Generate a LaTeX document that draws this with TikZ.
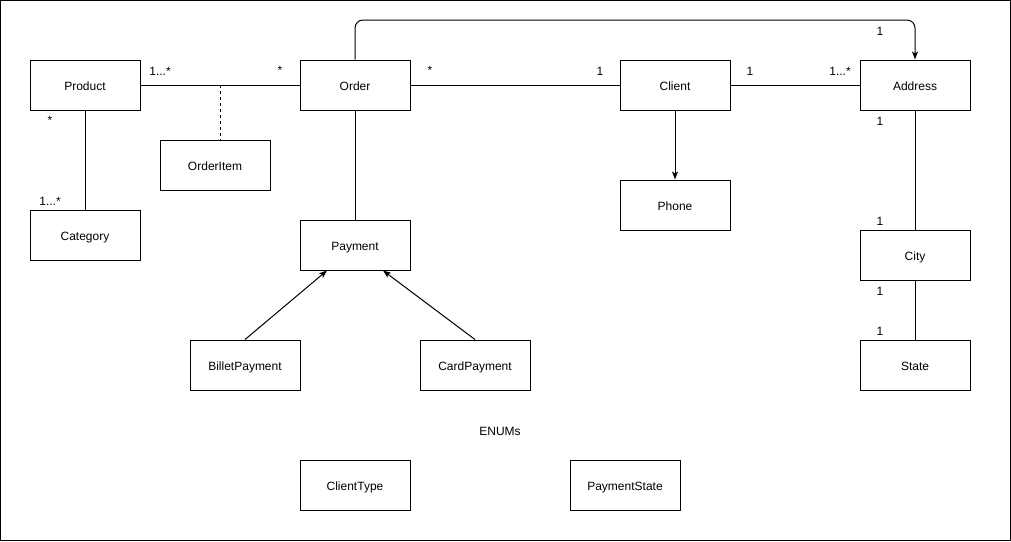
\documentclass[tikz,border=0pt]{standalone}
\usepackage{fontspec}
\setmainfont{Liberation Sans}
\usetikzlibrary{arrows.meta}
\begin{document}
\begin{tikzpicture}[x=1pt,y=-1pt,
  box/.style={draw=black,line width=1pt,minimum width=110pt,minimum height=50pt,inner sep=0pt,text height=10.5pt,text depth=0pt,font=\fontsize{12}{14}\selectfont},
  lbl/.style={font=\fontsize{12}{14}\selectfont,inner sep=0pt},
  conn/.style={draw=black,line width=1pt},
  arr/.style={conn,-{Stealth[length=8pt,width=6pt,inset=2pt]}}]
\draw[line width=1pt,fill=white] (0.5,0.5) rectangle (1010.5,540.5);
\node[box] (product) at (85,85) {Product};
\node[box] (order) at (355,85) {Order};
\node[box] (client) at (675,85) {Client};
\node[box] (address) at (915,85) {Address};
\node[box] (orderitem) at (215,165) {OrderItem};
\node[box] (category) at (85,235) {Category};
\node[box] (payment) at (355,245) {Payment};
\node[box] (phone) at (675,205) {Phone};
\node[box] (city) at (915,255) {City};
\node[box] (state) at (915,365) {State};
\node[box] (billet) at (245,365) {BilletPayment};
\node[box] (card) at (475,365) {CardPayment};
\node[box] (clienttype) at (355,485) {ClientType};
\node[box] (paymentstate) at (625,485) {PaymentState};
\node[lbl] (enums) at (500,431) {ENUMs};
\coordinate (assoc) at (220,85);
\draw[conn] (product) -- (order);
\draw[conn,dashed,dash pattern=on 3pt off 3pt] (assoc) -- (orderitem.north -| assoc);
\draw[conn] (product) -- (category);
\draw[conn] (order) -- (client);
\draw[conn] (client) -- (address);
\draw[arr,rounded corners=8pt] (order.north) -- (355,20) -- (915,20) -- (address.north);
\draw[conn] (order) -- (payment);
\draw[arr] (client) -- (phone);
\draw[conn] (address) -- (city);
\draw[conn] (city) -- (state);
\draw[arr] (billet.north) -- (payment.south -| 327,0);
\draw[arr] (card.north) -- (payment.south -| 383,0);
\node[lbl] (l1) at (160,71) {1...*};
\node[lbl] (l2) at (280,70) {*};
\node[lbl] (l3) at (50,120) {*};
\node[lbl] (l4) at (50,201) {1...*};
\node[lbl] (l5) at (430,70) {*};
\node[lbl] (l6) at (600,71) {1};
\node[lbl] (l7) at (750,71) {1};
\node[lbl] (l8) at (840,71) {1...*};
\node[lbl] (l9) at (880,31) {1};
\node[lbl] (l10) at (880,121) {1};
\node[lbl] (l11) at (880,221) {1};
\node[lbl] (l12) at (880,291) {1};
\node[lbl] (l13) at (880,331) {1};
\end{tikzpicture}
\end{document}
